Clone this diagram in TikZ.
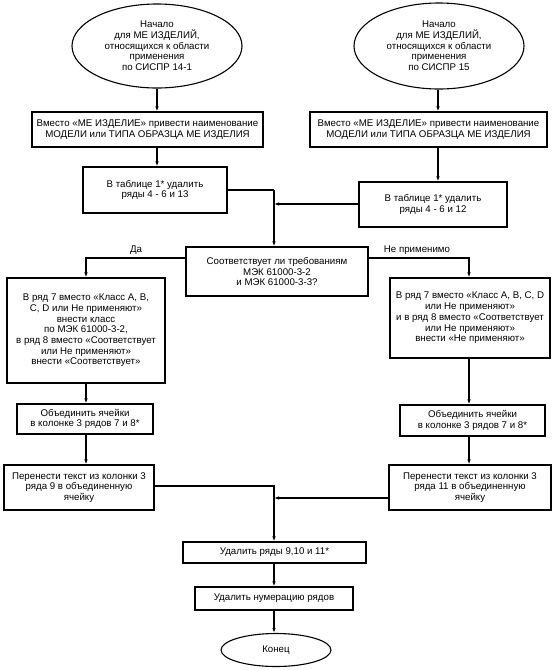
\documentclass[tikz,border=0pt]{standalone}
\usepackage{fontspec}
\setmainfont{Liberation Sans}
\usetikzlibrary{shapes.geometric,arrows.meta}
\newcommand{\fs}{\fontsize{9.7}{10.7}\selectfont}
\tikzset{
  box/.style={draw, line width=1.1pt, inner sep=0pt, align=center, font=\fs},
  term/.style={ellipse, draw, line width=1.1pt, inner sep=0pt, align=center, font=\fs},
  arr/.style={-{Latex[length=5pt,width=3.5pt]}, line width=1.1pt},
  ln/.style={line width=1.1pt},
  lbl/.style={font=\fs, inner sep=1pt}
}
\begin{document}
\begin{tikzpicture}[x=1pt,y=-1pt]
\useasboundingbox (0,0) rectangle (557,670);
\node[term, minimum width=170, minimum height=84] (E1) at (157,46)
  {Начало\\для МЕ ИЗДЕЛИЙ,\\относящихся к области\\применения\\по СИСПР 14-1};
\node[term, minimum width=170, minimum height=86] (E2) at (439,46)
  {Начало\\для МЕ ИЗДЕЛИЙ,\\относящихся к области\\применения\\по СИСПР 15};
\node[box, minimum width=231, minimum height=35] (B1L) at (147.5,129.5)
  {Вместо «МЕ ИЗДЕЛИЕ» привести наименование\\МОДЕЛИ или ТИПА ОБРАЗЦА МЕ ИЗДЕЛИЯ};
\node[box, minimum width=237, minimum height=35] (B1R) at (428.5,129.5)
  {Вместо «МЕ ИЗДЕЛИЕ» привести наименование\\МОДЕЛИ или ТИПА ОБРАЗЦА МЕ ИЗДЕЛИЯ};
\node[box, minimum width=144, minimum height=46] (B2L) at (155,190)
  {В таблице 1* удалить\\ряды 4 - 6 и 13};
\node[box, minimum width=148, minimum height=45] (B2R) at (433,204.5)
  {В таблице 1* удалить\\ряды 4 - 6 и 12};
\node[box, minimum width=182, minimum height=49] (Dec) at (277,271.5)
  {Соответствует ли требованиям\\МЭК 61000-3-2\\и МЭК 61000-3-3?};
\node[box, minimum width=158, minimum height=105] (B4L) at (86,330.5)
  {В ряд 7 вместо «Класс A, B,\\C, D или Не применяют»\\внести класс\\по МЭК 61000-3-2,\\в ряд 8 вместо «Соответствует\\или Не применяют»\\внести «Соответствует»};
\node[box, minimum width=160, minimum height=80] (B4R) at (470,318)
  {В ряд 7 вместо «Класс A, B, C, D\\или Не применяют»\\и в ряд 8 вместо «Соответствует\\или Не применяют»\\внести «Не применяют»};
\node[box, minimum width=136, minimum height=30] (B5L) at (85,419)
  {Объединить ячейки\\в колонке 3 рядов 7 и 8*};
\node[box, minimum width=145, minimum height=31] (B5R) at (472.5,420.5)
  {Объединить ячейки\\в колонке 3 рядов 7 и 8*};
\node[box, minimum width=150, minimum height=45] (B6L) at (79,487.5)
  {Перенести текст из колонки 3\\ряда 9 в объединенную\\ячейку};
\node[box, minimum width=162, minimum height=45] (B6R) at (470,487.5)
  {Перенести текст из колонки 3\\ряда 11 в объединенную\\ячейку};
\node[box, minimum width=183, minimum height=21] (B7) at (274.5,552.5)
  {Удалить ряды 9,10 и 11*};
\node[box, minimum width=158, minimum height=23] (B8) at (274,598.5)
  {Удалить нумерацию рядов};
\node[term, minimum width=110, minimum height=33] (End) at (276,650) {Конец};
\node[lbl] (lda) at (136,250) {Да};
\node[lbl] (lnp) at (417,250) {Не применимо};
\coordinate (j1) at (274,0);
\coordinate (yda) at (0,258);
\coordinate (y5) at (0,486);
\coordinate (y6) at (0,498);
\coordinate (y2r) at (0,204);
\coordinate (xr) at (469,0);
\coordinate (xe2) at (438,0);
% top
\draw[arr] (E1.south) -- (E1.south |- B1L.north);
\draw[arr] (B1L.south -| E1.south) -- (B2L.north -| E1.south);
\draw[arr] (E2.south -| xe2) -- (B1R.north -| xe2);
\draw[arr] (B1R.south -| xe2) -- (B2R.north -| xe2);
\draw[ln] (B2L.east) -- (B2L.east -| j1);
\draw[arr] (B2L.east -| j1) -- (Dec.north -| j1);
\draw[arr] (B2R.west |- y2r) -- (j1 |- y2r);
% decision
\draw[arr] (Dec.west |- yda) -- (B4L.north |- yda) -- (B4L.north);
\draw[arr] (Dec.east |- yda) -- (xr |- yda) -- (B4R.north -| xr);
% left column
\draw[arr] (B4L.south) -- (B4L.south |- B5L.north);
\draw[arr] (B5L.south -| B4L.south) -- (B6L.north -| B4L.south);
% right column
\draw[arr] (B4R.south -| xr) -- (B5R.north -| xr);
\draw[arr] (B5R.south -| xr) -- (B6R.north -| xr);
% merge
\draw[arr] (B6L.east |- y5) -- (j1 |- y5) -- (B7.north -| j1);
\draw[arr] (B6R.west |- y6) -- (j1 |- y6);
\draw[arr] (B7.south -| j1) -- (B8.north -| j1);
\draw[arr] (B8.south -| j1) -- (End.north -| j1);
\end{tikzpicture}
\end{document}
